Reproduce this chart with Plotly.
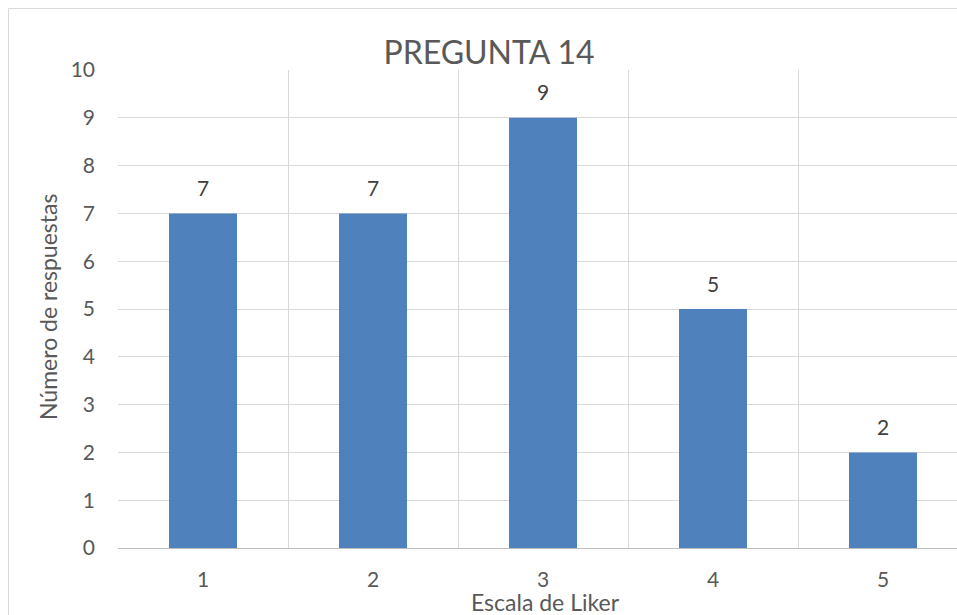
import plotly.graph_objects as go

categories = ["1", "2", "3", "4", "5"]
values = [7, 7, 9, 5, 2]
y_ticks = list(range(0, 11))

title_text = "PREGUNTA 14"
x_title = "Escala de Liker"
y_title = "Número de respuestas"

W, H = 957, 615
L, R, T, B = 118, 0, 70, 67
FONT = "Lato, Carlito, Calibri, sans-serif"
BAR = "#4F81BD"
GRID = "#D9D9D9"
TXT = "#595959"

fig = go.Figure()
fig.add_trace(go.Bar(
    x=categories, y=values, width=0.4,
    marker=dict(color=BAR, line=dict(width=0)),
    hoverinfo="x+y",
))

# data labels (category axis: annotation x given as category index)
for i, v in enumerate(values):
    fig.add_annotation(x=i, y=v, text=str(v), showarrow=False,
                       yanchor="middle", yshift=26,
                       font=dict(family=FONT, size=21, color="#404040"))

plot_w = W - L - R
slot = 170.0
xmax = -0.5 + plot_w / slot

fig.update_layout(
    width=W, height=H,
    margin=dict(l=L, r=R, t=T, b=B, pad=0),
    paper_bgcolor="white", plot_bgcolor="white",
    showlegend=False,
    font=dict(family=FONT, size=20, color=TXT),
    title=dict(text=title_text, x=489 / W, xanchor="center", xref="container",
               y=1 - 53 / H, yanchor="middle", yref="container",
               font=dict(family=FONT, size=32, color=TXT)),
    xaxis=dict(type="category", categoryorder="array", categoryarray=categories,
               range=[-0.5, xmax], tickson="boundaries",
               showgrid=True, gridcolor=GRID, gridwidth=1,
               showline=True, linecolor="#BFBFBF", linewidth=1,
               ticks="", ticklabelstandoff=13,
               tickfont=dict(family=FONT, size=21, color=TXT),
               zeroline=False, fixedrange=True),
    yaxis=dict(range=[0, 10], tickvals=y_ticks, showgrid=True, gridcolor=GRID,
               gridwidth=1, showline=False, zeroline=False, ticks="",
               ticklabelstandoff=22,
               tickfont=dict(family=FONT, size=21, color=TXT), fixedrange=True),
)

ph = H - T - B
def px_x(px):
    return (px - L) / plot_w
def px_y(py):
    return ((H - B) - py) / ph

# axis titles
fig.add_annotation(text=x_title, xref="paper", yref="paper",
                   x=px_x(545), y=px_y(602),
                   xanchor="center", yanchor="middle", showarrow=False,
                   font=dict(family=FONT, size=23, color=TXT))
fig.add_annotation(text=y_title, xref="paper", yref="paper",
                   x=px_x(48), y=px_y(307),
                   xanchor="center", yanchor="middle", showarrow=False,
                   textangle=-90,
                   font=dict(family=FONT, size=23, color=TXT))

# outer chart border (left and top edges visible)
fig.add_shape(type="line", xref="paper", yref="paper",
              x0=px_x(8.5), x1=px_x(8.5), y0=px_y(8.5), y1=px_y(H + 2),
              line=dict(color=GRID, width=1))
fig.add_shape(type="line", xref="paper", yref="paper",
              x0=px_x(8.5), x1=px_x(W + 2), y0=px_y(8.5), y1=px_y(8.5),
              line=dict(color=GRID, width=1))

fig.write_html("out.html", config={"displayModeBar": False})
